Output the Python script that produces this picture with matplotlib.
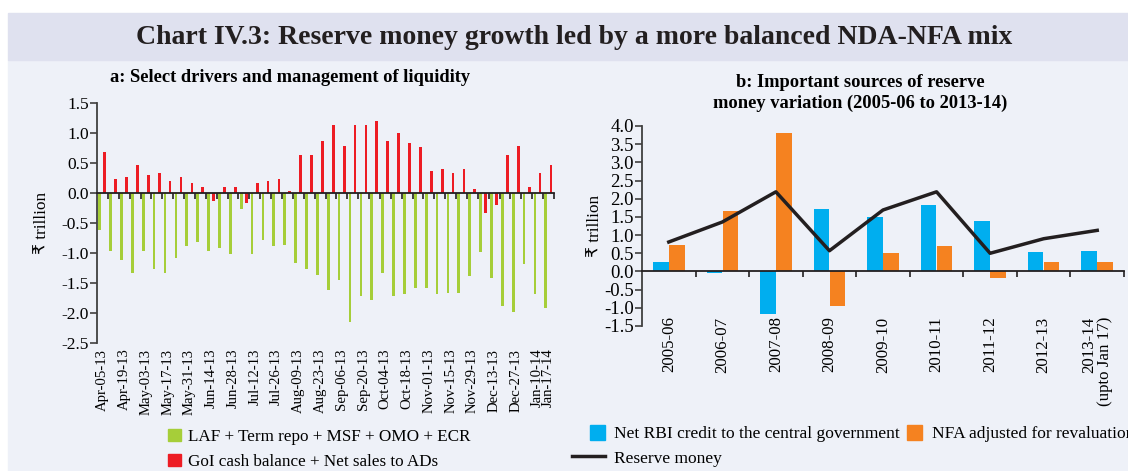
import matplotlib.pyplot as plt
import pandas as pd
from matplotlib.patches import Rectangle, Patch
from matplotlib.lines import Line2D
from matplotlib.legend_handler import HandlerPatch

plt.rcParams['font.family'] = ['Liberation Serif', 'DejaVu Sans']

# panel a: weekly data, Apr-05-13 to Jan-17-14 (Rs trillion)
weeks = pd.date_range('2013-04-05', '2014-01-17', freq='7D')
laf = [-0.62, -0.96, -1.12, -1.33, -0.96, -1.26, -1.33, -1.09, -0.89, -0.82, -0.96,
       -0.92, -1.02, -0.26, -1.02, -0.79, -0.89, -0.86, -1.16, -1.26, -1.36,
       -1.62, -1.45, -2.15, -1.72, -1.78, -1.33, -1.72, -1.69, -1.59, -1.59,
       -1.69, -1.66, -1.66, -1.39, -0.99, -1.42, -1.88, -1.99, -1.19, -1.69, -1.92]
goi = [0.69, 0.23, 0.26, 0.46, 0.30, 0.33, 0.20, 0.26, 0.16, 0.10, -0.13,
       0.10, 0.10, -0.17, 0.16, 0.20, 0.23, 0.03, 0.63, 0.63, 0.86,
       1.13, 0.79, 1.13, 1.13, 1.20, 0.86, 1.00, 0.83, 0.76, 0.36,
       0.40, 0.33, 0.40, 0.07, -0.33, -0.20, 0.63, 0.79, 0.10, 0.33, 0.46]

# panel b: annual (Rs trillion)
years = ['2005-06', '2006-07', '2007-08', '2008-09', '2009-10', '2010-11',
         '2011-12', '2012-13', '2013-14\n(upto Jan 17)']
net_rbi = [0.25, -0.05, -1.17, 1.73, 1.49, 1.82, 1.38, 0.54, 0.57]
nfa = [0.72, 1.66, 3.80, -0.94, 0.50, 0.70, -0.18, 0.26, 0.26]
reserve = [0.81, 1.36, 2.19, 0.57, 1.69, 2.19, 0.50, 0.90, 1.13]

GREEN, RED = '#a6ce39', '#ed1c24'
BLUE, ORANGE, BLACK = '#00aeef', '#f58220', '#231f20'
BODY, BAND = '#eef1f8', '#dfe1ef'
W, H = 1128, 471

fig = plt.figure(figsize=(W / 100, H / 100), dpi=100, facecolor='white')
fig.patches.append(Rectangle((8 / W, 0), 1, (H - 60) / H, transform=fig.transFigure,
                             color=BODY, zorder=-2))
fig.patches.append(Rectangle((8 / W, (H - 60) / H), 1, 47 / H, transform=fig.transFigure,
                             color=BAND, zorder=-2))
fig.text(0.509, (H - 37) / H, 'Chart IV.3: Reserve money growth led by a more balanced NDA-NFA mix',
         ha='center', va='center', fontsize=20, fontweight='bold', color='#231f20')


def square_right(legend, orig_handle, xdescent, ydescent, width, height, fontsize):
    sq = 11
    return Rectangle((-xdescent + width - sq, -ydescent + (height - sq) / 2), sq, sq)


def style_axis(ax, n, ymin, ymax, step, fs):
    ax.set_facecolor('none')
    for s in ['top', 'right']:
        ax.spines[s].set_visible(False)
    ax.spines['left'].set_color('#404040')
    ax.spines['left'].set_linewidth(1.3)
    ax.spines['bottom'].set_position(('data', 0))
    ax.spines['bottom'].set_color('#231f20')
    ax.spines['bottom'].set_linewidth(1.3)
    ax.set_xlim(-0.5, n - 0.5)
    ax.set_ylim(ymin, ymax)
    yt = [ymin + i * step for i in range(int(round((ymax - ymin) / step)) + 1)]
    ax.set_yticks(yt)
    ax.set_yticklabels([f'{v:.1f}' for v in yt], fontsize=fs)
    ax.tick_params(axis='y', length=5, width=1.2, color='#404040', pad=1)
    ax.set_xticks([i - 0.5 for i in range(1, n)] + [n - 0.5])
    ax.set_xticklabels([])
    ax.tick_params(axis='x', length=4, width=1.2, color='#231f20')
    ax.set_ylabel('₹ trillion', fontsize=12.3)


# ---- panel a
ax1 = fig.add_axes([97 / W, (H - 343) / H, 457 / W, 240 / H])
x = list(range(len(weeks)))
ax1.bar([i - 0.25 for i in x], laf, width=0.25, color=GREEN, zorder=2)
ax1.bar([i + 0.22 for i in x], goi, width=0.25, color=RED, zorder=2)
style_axis(ax1, len(weeks), -2.5, 1.5, 0.5, 12.5)
ax1.yaxis.labelpad = 8
lab_idx = list(range(0, len(weeks), 2)) + [len(weeks) - 1]
sec1 = ax1.secondary_xaxis('bottom')
sec1.spines['bottom'].set_visible(False)
sec1.set_xticks(lab_idx)
sec1.set_xticklabels([weeks[i].strftime('%b-%d-%y') for i in lab_idx], rotation=90, fontsize=10.6)
sec1.tick_params(length=0, pad=4)
fig.text(290 / W, (H - 78) / H, 'a: Select drivers and management of liquidity',
         ha='center', va='center', fontsize=13.3, fontweight='bold')
fig.legend(handles=[Patch(color=GREEN, label='LAF + Term repo + MSF + OMO + ECR'),
                    Patch(color=RED, label='GoI cash balance + Net sales to ADs')],
           loc='upper left', bbox_to_anchor=(161 / W, (H - 422) / H), frameon=False,
           fontsize=12.3, handlelength=0.75, handleheight=0.75, handletextpad=0.45,
           labelspacing=0.5, borderaxespad=0)

# ---- panel b
ax2 = fig.add_axes([642 / W, (H - 326) / H, 482 / W, 200 / H])
xb = list(range(len(years)))
ax2.bar([i - 0.15 for i in xb], net_rbi, width=0.29, color=BLUE, zorder=2)
ax2.bar([i + 0.15 for i in xb], nfa, width=0.29, color=ORANGE, zorder=2)
ax2.plot(xb, reserve, color=BLACK, lw=2.5, zorder=3)
style_axis(ax2, len(years), -1.5, 4.0, 0.5, 13.5)
ax2.yaxis.labelpad = 1
sec2 = ax2.secondary_xaxis(0.055)
sec2.spines['bottom'].set_visible(False)
sec2.set_xticks(xb)
sec2.set_xticklabels(years, rotation=90, fontsize=12.2, linespacing=1.0)
for t in sec2.get_xticklabels():
    t.set_multialignment('right')
sec2.tick_params(length=0, pad=1)
fig.text(860 / W, (H - 93) / H, 'b: Important sources of reserve\nmoney variation (2005-06 to 2013-14)',
         ha='center', va='center', fontsize=13.3, fontweight='bold', linespacing=1.25)
fig.legend(handles=[Patch(color=BLUE, label='Net RBI credit to the central government'),
                    Line2D([], [], color=BLACK, lw=2.5, label='Reserve money'),
                    Patch(color=ORANGE, label='NFA adjusted for revaluation')],
           handler_map={Patch: HandlerPatch(patch_func=square_right)},
           ncol=2, loc='upper left', bbox_to_anchor=(565 / W, (H - 419) / H), frameon=False,
           fontsize=12.5, handlelength=1.9, handleheight=0.75, handletextpad=0.55,
           labelspacing=0.45, columnspacing=-0.63, borderaxespad=0)

fig.savefig('out.png', dpi=100, facecolor=fig.get_facecolor())
